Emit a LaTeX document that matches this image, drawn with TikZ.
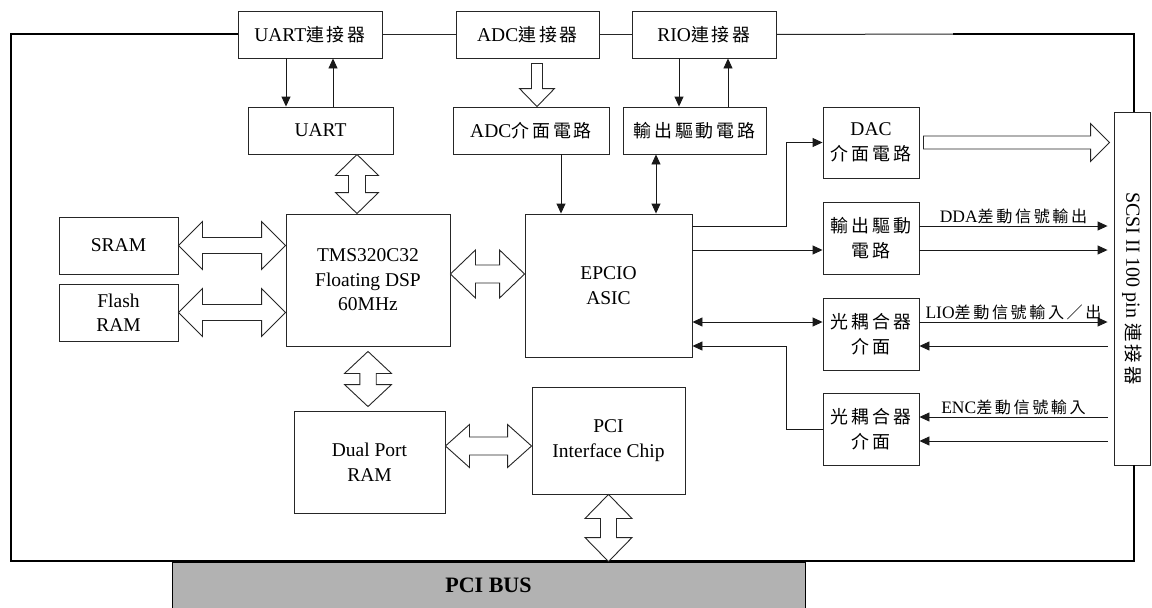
\documentclass[tikz,border=0pt]{standalone}
\usepackage{fontspec}
\setmainfont{Liberation Serif}
\newfontfamily\cjfont{Noto Sans CJK TC}[LetterSpace=16,Scale=0.92]
\newcommand\cj[1]{{\cjfont #1}}
\usetikzlibrary{arrows.meta,calc}
\newcommand\hDA[5]{\draw[hollow] let \p1=#1, \p2=#2 in (\x1,\y1) -- (\x1+#3,\y1+#4) -- (\x1+#3,\y1+#5) -- (\x2-#3,\y1+#5) -- (\x2-#3,\y1+#4) -- (\x2,\y1) -- (\x2-#3,\y1-#4) -- (\x2-#3,\y1-#5) -- (\x1+#3,\y1-#5) -- (\x1+#3,\y1-#4) -- cycle;}
\newcommand\vDA[5]{\draw[hollow] let \p1=#1, \p2=#2 in (\x1,\y1) -- (\x1+#4,\y1-#3) -- (\x1+#5,\y1-#3) -- (\x1+#5,\y2+#3) -- (\x1+#4,\y2+#3) -- (\x1,\y2) -- (\x1-#4,\y2+#3) -- (\x1-#5,\y2+#3) -- (\x1-#5,\y1-#3) -- (\x1-#4,\y1-#3) -- cycle;}
\newcommand\vSA[5]{\draw[hollow] let \p1=#1, \p2=#2 in (\x1-#5,\y1) -- (\x1+#5,\y1) -- (\x1+#5,\y2+#3) -- (\x1+#4,\y2+#3) -- (\x1,\y2) -- (\x1-#4,\y2+#3) -- (\x1-#5,\y2+#3) -- cycle;}
\newcommand\hSA[5]{\draw[hollow] let \p1=#1, \p2=#2 in (\x1,\y1+#5) -- (\x2-#3,\y1+#5) -- (\x2-#3,\y1+#4) -- (\x2,\y1) -- (\x2-#3,\y1-#4) -- (\x2-#3,\y1-#5) -- (\x1,\y1-#5) -- cycle;}
\begin{document}
\begin{tikzpicture}[x=1pt,y=-1pt,
  box/.style={draw=black!85, line width=0.9pt, fill=white, inner sep=0pt, align=center,
    font=\fontsize{19.5}{24.5}\selectfont},
  hollow/.style={draw=black!85, line width=0.9pt, fill=white},
  thin/.style={draw=black!85, line width=1pt},
  frame/.style={draw=black, line width=2pt},
  arr/.style={draw=black!90, line width=0.9pt, -{Triangle[length=10pt,width=9pt]}},
  darr/.style={draw=black!90, line width=0.9pt, {Triangle[length=10pt,width=9pt]}-{Triangle[length=10pt,width=9pt]}},
  lab/.style={font=\fontsize{17.5}{20}\selectfont, inner sep=2pt}]
\useasboundingbox (0,0) rectangle (1152,608);
\fill[white] (0,0) rectangle (1152,608);

% PCI bus
\node[draw=black, line width=0.9pt, fill=black!30, minimum width=633pt, minimum height=50pt,
  text height=15pt, text depth=5pt, font=\fontsize{22}{24}\selectfont\bfseries] (bus) at (488.5,587) {PCI BUS};

% frame
\coordinate (fTL) at (11,34);
\coordinate (fBL) at (11,561);
\coordinate (fBR) at (1134,561);
\coordinate (fTR) at (1134,34);
\coordinate (fT2) at (953,34);

% boxes
\node[box, minimum width=144pt, minimum height=47pt] (uartc) at (310,34.5) {UART\cj{連接器}};
\node[box, minimum width=143pt, minimum height=47pt] (adcc) at (527.5,34.5) {ADC\cj{連接器}};
\node[box, minimum width=144pt, minimum height=47pt] (rioc) at (704,34.5) {RIO\cj{連接器}};
\node[box, minimum width=145pt, minimum height=47pt] (uart) at (320.5,130.5) {UART};
\node[box, minimum width=156pt, minimum height=47pt] (adci) at (531,130.5) {ADC\cj{介面電路}};
\node[box, minimum width=143pt, minimum height=47pt] (outd1) at (694.5,130.5) {\cj{輸出驅動電路}};
\node[box, minimum width=96pt, minimum height=71pt] (dac) at (871,142.5) {DAC\\\cj{介面電路}};
\node[box, minimum width=96pt, minimum height=72pt] (outd2) at (871,238) {\cj{輸出驅動}\\\cj{電路}};
\node[box, minimum width=96pt, minimum height=72pt] (g1) at (871,334) {\cj{光耦合器}\\\cj{介面}};
\node[box, minimum width=96pt, minimum height=72pt] (g2) at (871,429) {\cj{光耦合器}\\\cj{介面}};
\node[box, minimum width=119pt, minimum height=57pt] (sram) at (118.5,245.5) {SRAM};
\node[box, minimum width=119pt, minimum height=57pt] (flash) at (118.5,312.5) {Flash\\RAM};
\node[box, minimum width=164pt, minimum height=132pt] (tms) at (368,280) {TMS320C32\\Floating DSP\\60MHz};
\node[box, minimum width=167pt, minimum height=143pt] (epcio) at (608.5,285.5) {EPCIO\\ASIC};
\node[box, minimum width=151pt, minimum height=102pt] (dual) at (369.5,462) {Dual Port\\RAM};
\node[box, minimum width=153pt, minimum height=107pt] (pci) at (608.5,440.5) {PCI\\Interface Chip};
\node[box, rotate=-90, minimum width=353pt, minimum height=36pt, font=\fontsize{20}{24}\selectfont] (scsi) at (1132,288.5) {SCSI II 100 pin \cj{連接器}};

% frame lines
\draw[frame] (uartc.west |- fTL) -- (fTL) -- (fBL) -- (fBR) -- (fBR |- scsi.east);
\draw[frame] (fT2) -- (fTR) -- (fTR |- scsi.west);
\draw[thin] (uartc.east) -- (adcc.west);
\draw[thin] (adcc.east) -- (rioc.west);
\draw[thin] (rioc.east) -- (fT2);

% hollow arrows
\vDA{([xshift=36.5pt]uart.south)}{(tms.north)}{21pt}{21.5pt}{8.5pt}
\vDA{([yshift=-5pt]tms.south)}{([yshift=4pt]dual.north)}{22pt}{23.5pt}{8.2pt}
\vDA{(pci.south)}{(bus.north)}{24pt}{23.5pt}{8pt}
\hDA{(sram.east)}{(tms.west)}{24pt}{24pt}{8pt}
\hDA{(flash.east)}{(tms.west)}{24pt}{24pt}{8pt}
\hDA{([yshift=6pt]tms.east)}{(epcio.west)}{25pt}{24pt}{9pt}
\hDA{([yshift=16pt]dual.east)}{(pci.west)}{24pt}{21.5pt}{9pt}
\vSA{([xshift=9.5pt,yshift=-5pt]adcc.south)}{(adci.north)}{18pt}{17.5pt}{5.5pt}
\hSA{([xshift=4pt]dac.east)}{([xshift=-4pt]scsi.south)}{19pt}{19pt}{6.5pt}

% thin arrows top
\coordinate (a1) at ([xshift=-24pt]uartc.south);
\coordinate (a2) at ([xshift=23pt]uartc.south);
\coordinate (a3) at ([xshift=-25pt]rioc.south);
\coordinate (a4) at ([xshift=24pt]rioc.south);
\coordinate (a5) at ([xshift=30pt]adci.south);
\coordinate (a6) at ([xshift=-38.5pt]outd1.south);
\draw[arr] (a1) -- (a1 |- uart.north);
\draw[arr] (a2 |- uart.north) -- (a2);
\draw[arr] (a3) -- (a3 |- outd1.north);
\draw[arr] (a4 |- outd1.north) -- (a4);
\draw[arr] (a5) -- (a5 |- epcio.north);
\draw[darr] (a6) -- (a6 |- epcio.north);

% right side
\coordinate (se) at ([xshift=-6pt]scsi.south);
\coordinate (j1) at ([xshift=-36pt]dac.west);
\coordinate (o2u) at ([yshift=12pt]outd2.west);
\coordinate (o2d) at ([yshift=-12pt]outd2.west);
\coordinate (o2ue) at ([yshift=12pt]outd2.east);
\coordinate (o2de) at ([yshift=-12pt]outd2.east);
\coordinate (g1u) at ([yshift=12pt]g1.west);
\coordinate (g1d) at ([yshift=-12pt]g1.west);
\coordinate (g1ue) at ([yshift=12pt]g1.east);
\coordinate (g1de) at ([yshift=-12pt]g1.east);
\coordinate (g2ue) at ([yshift=12pt]g2.east);
\coordinate (g2de) at ([yshift=-12pt]g2.east);

\draw[arr] (epcio.east |- o2u) -| (j1) -- (dac.west);
\draw[arr] (epcio.east |- o2d) -- (o2d);
\draw[arr] (o2ue) -- (o2ue -| se);
\draw[arr] (o2de) -- (o2de -| se);
\draw[darr] (epcio.east |- g1u) -- (g1u);
\draw[arr] (g1ue) -- (g1ue -| se);
\draw[arr] (g1de -| se) -- (g1de);
\draw[arr] (g2.west) -- ++(-36pt,0) |- (epcio.east |- g1d);
\draw[arr] (g2ue -| se) -- (g2ue);
\draw[arr] (g2de -| se) -- (g2de);

\node[lab, above] (l1) at ($(o2ue)!0.5!(o2ue -| se)$) {DDA\cj{差動信號輸出}};
\node[lab, above] (l2) at ($(g1ue)!0.5!(g1ue -| se)$) {LIO\cj{差動信號輸入／出}};
\node[lab, above] (l3) at ($(g2ue)!0.5!(g2ue -| se)$) {ENC\cj{差動信號輸入}};
\end{tikzpicture}
\end{document}
